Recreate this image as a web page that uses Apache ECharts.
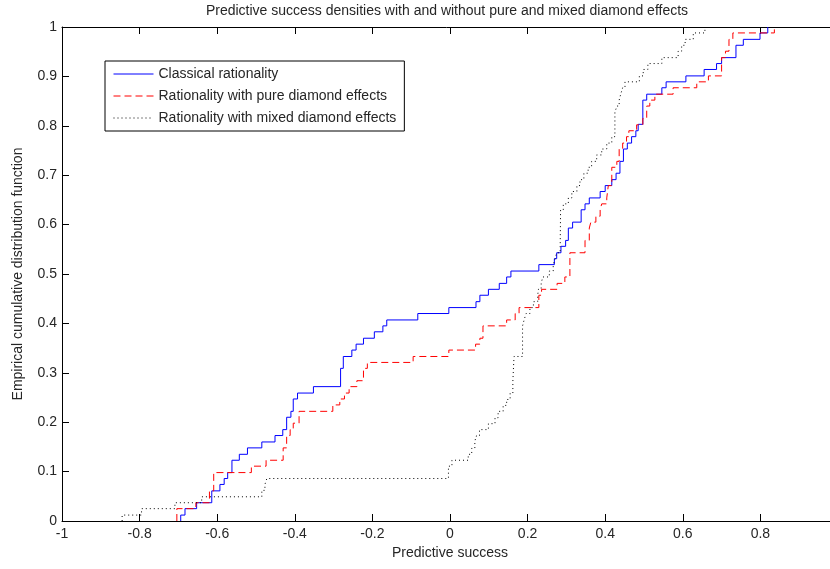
<!DOCTYPE html>
<html>
<head>
<meta charset="utf-8">
<script src="https://cdn.jsdelivr.net/npm/echarts@6/dist/echarts.min.js"></script>
<style>
html,body{margin:0;padding:0;background:#fff;}
#chart{width:830px;height:569px;}
</style>
</head>
<body>
<div id="chart"></div>
<script>
var titleText = 'Predictive success densities with and without pure and mixed diamond effects';
var xAxisName = 'Predictive success';
var yAxisName = 'Empirical cumulative distribution function';
var seriesNames = ['Classical rationality', 'Rationality with pure diamond effects', 'Rationality with mixed diamond effects'];

var blueX = [-0.694,-0.694,-0.683,-0.653,-0.614,-0.593,-0.582,-0.573,-0.562,-0.543,-0.522,-0.485,-0.451,-0.431,-0.421,-0.410,-0.404,-0.393,-0.352,-0.282,-0.275,-0.253,-0.242,-0.223,-0.195,-0.173,-0.163,-0.083,-0.003,0.067,0.077,0.099,0.127,0.146,0.157,0.229,0.269,0.275,0.286,0.298,0.305,0.316,0.338,0.348,0.359,0.387,0.400,0.417,0.428,0.438,0.447,0.457,0.468,0.479,0.485,0.497,0.507,0.546,0.557,0.608,0.655,0.687,0.700,0.737,0.756,0.799,0.819];
var blueY = [0,0.012,0.025,0.037,0.061,0.074,0.086,0.098,0.123,0.135,0.148,0.160,0.173,0.185,0.210,0.222,0.247,0.259,0.272,0.309,0.333,0.346,0.358,0.370,0.383,0.395,0.407,0.420,0.432,0.444,0.457,0.469,0.481,0.494,0.506,0.519,0.531,0.543,0.556,0.568,0.593,0.605,0.630,0.642,0.654,0.667,0.679,0.691,0.704,0.728,0.753,0.765,0.778,0.790,0.803,0.852,0.864,0.877,0.889,0.901,0.914,0.926,0.938,0.963,0.975,0.988,1.0];

var redX = [-0.704,-0.704,-0.655,-0.620,-0.609,-0.512,-0.474,-0.430,-0.421,-0.412,-0.404,-0.389,-0.302,-0.284,-0.272,-0.260,-0.240,-0.223,-0.213,-0.095,-0.003,0.066,0.077,0.085,0.146,0.168,0.178,0.229,0.236,0.276,0.296,0.309,0.348,0.359,0.363,0.376,0.387,0.391,0.404,0.408,0.417,0.430,0.436,0.445,0.455,0.461,0.481,0.497,0.507,0.515,0.528,0.575,0.636,0.666,0.700,0.710,0.719,0.729,0.836];
var redY = [0,0.025,0.037,0.061,0.098,0.111,0.123,0.148,0.173,0.185,0.198,0.222,0.235,0.247,0.259,0.272,0.284,0.309,0.321,0.333,0.346,0.358,0.370,0.395,0.407,0.420,0.432,0.457,0.469,0.481,0.494,0.543,0.568,0.593,0.605,0.617,0.630,0.642,0.654,0.679,0.716,0.728,0.753,0.765,0.778,0.790,0.802,0.815,0.840,0.852,0.864,0.877,0.889,0.901,0.938,0.951,0.975,0.988,1.0];

var dotX = [-0.845,-0.845,-0.795,-0.709,-0.640,-0.485,-0.477,-0.472,-0.004,0.005,0.047,0.056,0.064,0.067,0.076,0.099,0.116,0.124,0.137,0.146,0.155,0.162,0.165,0.187,0.191,0.196,0.206,0.215,0.226,0.228,0.235,0.239,0.256,0.266,0.271,0.275,0.284,0.285,0.292,0.305,0.314,0.327,0.335,0.345,0.356,0.365,0.378,0.391,0.404,0.417,0.425,0.430,0.436,0.440,0.445,0.451,0.488,0.498,0.510,0.546,0.588,0.597,0.606,0.627,0.657];
var dotY = [0,0.012,0.025,0.037,0.049,0.062,0.074,0.086,0.111,0.123,0.135,0.147,0.160,0.172,0.185,0.197,0.209,0.222,0.234,0.246,0.259,0.283,0.333,0.395,0.407,0.420,0.432,0.444,0.457,0.469,0.481,0.494,0.506,0.519,0.531,0.543,0.556,0.630,0.642,0.654,0.667,0.679,0.691,0.704,0.716,0.728,0.741,0.753,0.765,0.778,0.827,0.840,0.852,0.864,0.877,0.889,0.901,0.914,0.926,0.938,0.951,0.963,0.975,0.988,1.0];

function zip(xs, ys){ var out=[]; for(var i=0;i<xs.length;i++){ out.push([xs[i], ys[i]]); } return out; }

var FONT = '"Liberation Sans", Arial, sans-serif';
var TXT = '#262626';

var chart = echarts.init(document.getElementById('chart'), null, {renderer:'canvas'});

function axisCommon(showLine, tickLen){
  return {
    axisLine:{show:showLine, onZero:false, lineStyle:{color:'#000', width:1}},
    axisTick:{show:true, inside:true, length:tickLen, lineStyle:{color:'#000', width:1}},
    splitLine:{show:false}
  };
}

var option = {
  backgroundColor:'#fff',
  animation:false,
  title:{
    text: titleText,
    left: 447, top: 4, padding: 0,
    textAlign: 'center',
    textStyle:{fontFamily:FONT, fontSize:14, fontWeight:'normal', color:TXT}
  },
  legend:{
    orient:'vertical',
    left:105, top:61,
    padding:[6,8,6,8],
    itemWidth:40, itemHeight:14, itemGap:8,
    backgroundColor:'#fff',
    borderColor:'#000', borderWidth:1,
    itemStyle:{opacity:0},
    lineStyle:{width:1},
    textStyle:{fontFamily:FONT, fontSize:14, color:TXT},
    data: seriesNames
  },
  grid:{left:62, top:27, right:-8, bottom:48, containLabel:false, outerBoundsMode:'none'},
  xAxis:[
    Object.assign({
      type:'value', min:-1, max:1, interval:0.2, position:'bottom',
      name: xAxisName, nameLocation:'middle', nameGap:25,
      nameTextStyle:{fontFamily:FONT, fontSize:14, color:TXT},
      axisLabel:{fontFamily:FONT, fontSize:14, color:TXT, margin:6,
        formatter:function(v){ return Math.abs(v-1)<1e-9 ? '' : String(+v.toFixed(1)); }}
    }, axisCommon(true, 7)),
    Object.assign({
      type:'value', min:-1, max:1, interval:0.2, position:'top',
      axisLabel:{show:false}
    }, axisCommon(true, 7))
  ],
  yAxis:[
    Object.assign({
      type:'value', min:0, max:1, interval:0.1, position:'left',
      name: yAxisName, nameLocation:'middle', nameGap:37, nameRotate:90,
      nameTextStyle:{fontFamily:FONT, fontSize:14, color:TXT},
      axisLabel:{fontFamily:FONT, fontSize:14, color:TXT, margin:5,
        formatter:function(v){ return String(+v.toFixed(1)); }}
    }, axisCommon(true, 7)),
    Object.assign({
      type:'value', min:0, max:1, interval:0.1, position:'right',
      axisLabel:{show:false}
    }, axisCommon(true, 7))
  ],
  series:[
    {name:seriesNames[0], type:'line', step:'end', data:zip(blueX, blueY), symbol:'none', showSymbol:false,
     color:'#0000ff', lineStyle:{color:'#0000ff', width:1, type:'solid'}, xAxisIndex:0, yAxisIndex:0},
    {name:seriesNames[1], type:'line', step:'end', data:zip(redX, redY), symbol:'none', showSymbol:false,
     color:'#ff0000', lineStyle:{color:'#ff0000', width:1, type:[7,4]}, xAxisIndex:0, yAxisIndex:0},
    {name:seriesNames[2], type:'line', step:'end', data:zip(dotX, dotY), symbol:'none', showSymbol:false,
     color:'#000000', lineStyle:{color:'#000000', width:1, type:[1,3]}, xAxisIndex:0, yAxisIndex:0}
  ]
};
chart.setOption(option);
</script>
</body>
</html>
